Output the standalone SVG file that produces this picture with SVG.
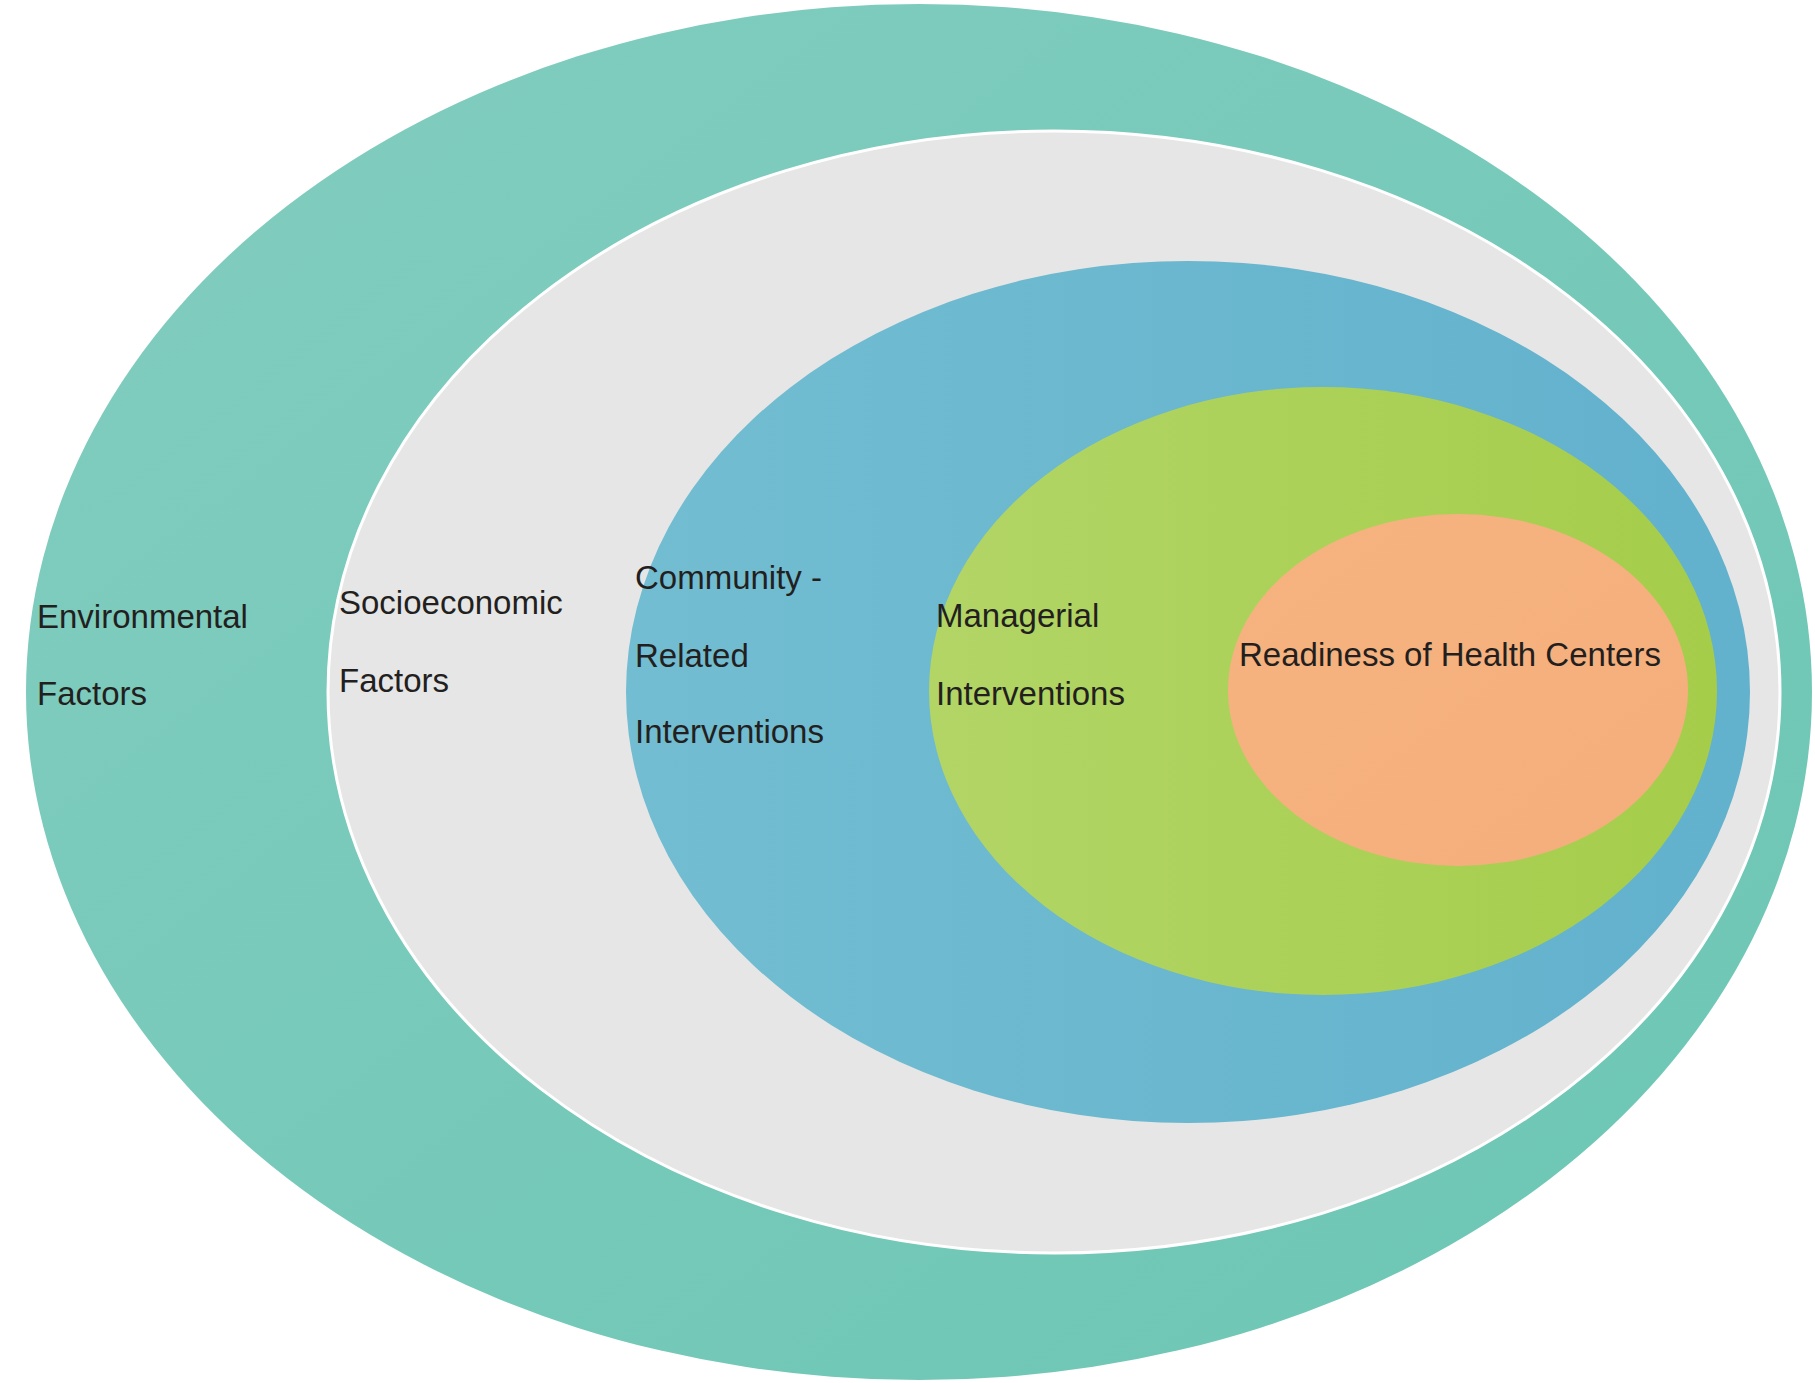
<svg xmlns="http://www.w3.org/2000/svg" width="1815" height="1383" viewBox="0 0 1815 1383">
<defs>
<linearGradient id="gTeal" x1="0" y1="0" x2="1" y2="1">
<stop offset="0" stop-color="#82CDBF"/>
<stop offset="1" stop-color="#6CC6B4"/>
</linearGradient>
<linearGradient id="gBlue" x1="0" y1="0" x2="1" y2="0">
<stop offset="0" stop-color="#72BDD1"/>
<stop offset="1" stop-color="#62B1CD"/>
</linearGradient>
<linearGradient id="gGreen" x1="0" y1="0" x2="1" y2="0">
<stop offset="0" stop-color="#B2D566"/>
<stop offset="1" stop-color="#A5CD4A"/>
</linearGradient>
<linearGradient id="gOrange" x1="0" y1="0" x2="1" y2="1">
<stop offset="0" stop-color="#F6B37F"/>
<stop offset="1" stop-color="#F4AE7C"/>
</linearGradient>
<style>
text{font-family:"Liberation Sans",Arial,sans-serif;font-size:33px;fill:#231F20;}
</style>
</defs>
<rect width="1815" height="1383" fill="#FFFFFF"/>
<g id="environmental">
<ellipse cx="919" cy="692" rx="893" ry="688" fill="url(#gTeal)"/>
<text x="37" y="628">Environmental</text>
<text x="37" y="705">Factors</text>
</g>
<g id="socioeconomic">
<ellipse cx="1054" cy="692" rx="726" ry="561" fill="#E6E6E6" stroke="#FFFFFF" stroke-width="3"/>
<text x="339" y="614">Socioeconomic</text>
<text x="339" y="692">Factors</text>
</g>
<g id="community">
<ellipse cx="1188" cy="692" rx="562" ry="431" fill="url(#gBlue)"/>
<text x="635" y="589">Community -</text>
<text x="635" y="667">Related</text>
<text x="635" y="743">Interventions</text>
</g>
<g id="managerial">
<ellipse cx="1323" cy="691" rx="394" ry="304" fill="url(#gGreen)"/>
<text x="936" y="627">Managerial</text>
<text x="936" y="705">Interventions</text>
</g>
<g id="readiness">
<ellipse cx="1458" cy="690" rx="230" ry="176" fill="url(#gOrange)"/>
<text x="1239" y="666">Readiness of Health Centers</text>
</g>
<g id="connectors"/>
</svg>
